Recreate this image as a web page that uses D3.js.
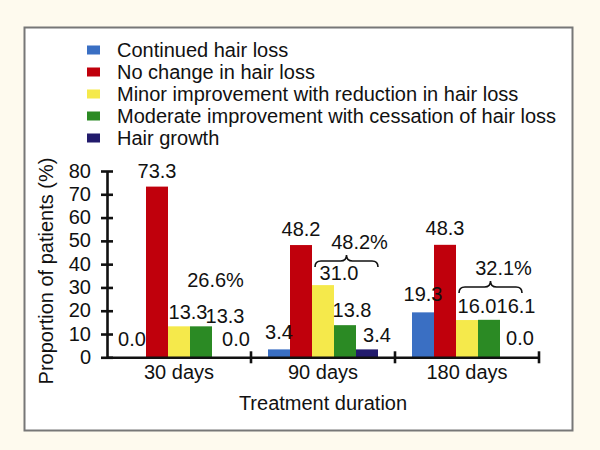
<!DOCTYPE html>
<html>
<head>
<meta charset="utf-8">
<script src="https://cdn.jsdelivr.net/npm/d3@7"></script>
<style>
  html, body { margin: 0; padding: 0; background: #fefaee; }
  svg { display: block; font-family: "Liberation Sans", Arial, sans-serif; }
</style>
</head>
<body>
<svg id="chart" width="600" height="450"></svg>
<script>
// ---- data ----
const groups = ["30 days", "90 days", "180 days"];
const seriesNames = [
  "Continued hair loss",
  "No change in hair loss",
  "Minor improvement with reduction in hair loss",
  "Moderate improvement with cessation of hair loss",
  "Hair growth"
];
const continuedLoss = [0.0, 3.4, 19.3];
const noChange      = [73.3, 48.2, 48.3];
const minorImprove  = [13.3, 31.0, 16.0];
const moderateImprove = [13.3, 13.8, 16.1];
const hairGrowth    = [0.0, 3.4, 0.0];
const yTicks = [0, 10, 20, 30, 40, 50, 60, 70, 80];
const groupSumLabels = ["26.6%", "48.2%", "32.1%"];
const bracketLevel = [null, 38.8, 27.6];   // value level of brace bottom (null = no brace)
const sumTextLevel = [30.2, 46.5, 35.4];   // value level of the sum label baseline

// ---- styles / layout ----
const colors = ["#3a6fc3", "#c0000c", "#f5e94b", "#2b8a24", "#221b6c"];
// label nudges in px [dx, dy] per group, per series
const labelNudge = [
  [[-3, -2], [0, 0], [9, 2], [24, 6], [13, -2]],
  [[0, -1], [0, 0], [16, 4], [7, 1], [10, 2]],
  [[0, -2], [0, -1], [10, 2], [27, 2], [9, -3]]
];
const values = [continuedLoss, noChange, minorImprove, moderateImprove, hairGrowth];

const svg = d3.select("#chart");
const ink = "#111";

// panel
svg.append("rect").attr("x", 24.5).attr("y", 27.5).attr("width", 548).attr("height", 403)
  .attr("fill", "#fff").attr("stroke", "#777").attr("stroke-width", 2);

const x0 = d3.scaleBand().domain(groups).range([107, 539]).paddingInner(0).paddingOuter(0);
const x1 = d3.scaleBand().domain(d3.range(seriesNames.length)).range([17, 127]);
const y = d3.scaleLinear().domain([0, 80]).range([357.3, 171]);

// bars
groups.forEach((g, gi) => {
  const gEl = svg.append("g").attr("transform", `translate(${x0(g)},0)`);
  values.forEach((arr, si) => {
    gEl.append("rect")
      .attr("x", x1(si)).attr("width", x1.bandwidth())
      .attr("y", y(arr[gi])).attr("height", y(0) - y(arr[gi]))
      .attr("fill", colors[si]);
  });
  values.forEach((arr, si) => {
    const [dx, dy] = labelNudge[gi][si];
    gEl.append("text")
      .attr("x", x1(si) + x1.bandwidth() / 2 + dx)
      .attr("y", y(arr[gi]) - 9 + dy)
      .attr("text-anchor", "middle")
      .attr("font-size", 20).attr("fill", ink)
      .text(arr[gi].toFixed(1));
  });
  // brace + sum label over minor..hair growth
  const xs = x1(2) + 3, xe = x1(4) + x1.bandwidth();
  const xm = (xs + xe) / 2;
  if (bracketLevel[gi] !== null) {
    const yb = y(bracketLevel[gi]);
    const ya = yb - 6, tip = ya - 6;
    const p = `M${xs},${yb} Q${xs},${ya} ${xs + 6},${ya} L${xm - 6},${ya} Q${xm},${ya} ${xm},${tip} Q${xm},${ya} ${xm + 6},${ya} L${xe - 6},${ya} Q${xe},${ya} ${xe},${yb}`;
    gEl.append("path").attr("d", p).attr("fill", "none").attr("stroke", ink).attr("stroke-width", 1.6);
  }
  gEl.append("text")
    .attr("x", xm + 13)
    .attr("y", y(sumTextLevel[gi]))
    .attr("text-anchor", "middle")
    .attr("font-size", 20).attr("fill", ink)
    .text(groupSumLabels[gi]);
});

// y axis
const yAxis = svg.append("g").attr("transform", "translate(107,0)")
  .call(d3.axisLeft(y).tickValues(yTicks).tickSize(6).tickSizeOuter(0).tickPadding(10));
yAxis.select(".domain").attr("stroke", ink).attr("stroke-width", 2.6);
yAxis.selectAll(".tick line").attr("x1", -6).attr("x2", 6).attr("stroke", ink).attr("stroke-width", 2.6);
yAxis.selectAll(".tick text").attr("font-size", 20).attr("fill", ink)
  .attr("font-family", "Liberation Sans, Arial, sans-serif").attr("dy", "0.3em");

// x axis
const xAxis = svg.append("g").attr("transform", `translate(0,${y(0)})`)
  .call(d3.axisBottom(x0).tickSize(0).tickSizeOuter(0).tickPadding(8));
xAxis.select(".domain").attr("stroke", ink).attr("stroke-width", 2.6);
xAxis.selectAll(".tick text").attr("font-size", 20).attr("fill", ink)
  .attr("font-family", "Liberation Sans, Arial, sans-serif");
const bounds = groups.map(g => x0(g) + x0.bandwidth()).filter((d, i) => true);
xAxis.selectAll(".bound").data(bounds).enter().append("line")
  .attr("x1", d => d).attr("x2", d => d).attr("y1", -6).attr("y2", 6)
  .attr("stroke", ink).attr("stroke-width", 2.6);

// axis titles
svg.append("text").attr("x", (x0.range()[0] + x0.range()[1]) / 2).attr("y", 410)
  .attr("text-anchor", "middle").attr("font-size", 20).attr("fill", ink).text("Treatment duration");
svg.append("text").attr("transform", "translate(53,271) rotate(-90)")
  .attr("text-anchor", "middle").attr("font-size", 20).attr("fill", ink).text("Proportion of patients (%)");

// legend
const leg = svg.append("g");
seriesNames.forEach((name, i) => {
  const cy = 50 + i * 22;
  leg.append("rect").attr("x", 87).attr("y", cy - 4.5).attr("width", 13).attr("height", 9).attr("fill", colors[i]);
  leg.append("text").attr("x", 117).attr("y", cy + 7).attr("font-size", 20).attr("fill", ink).text(name);
});
</script>
</body>
</html>
